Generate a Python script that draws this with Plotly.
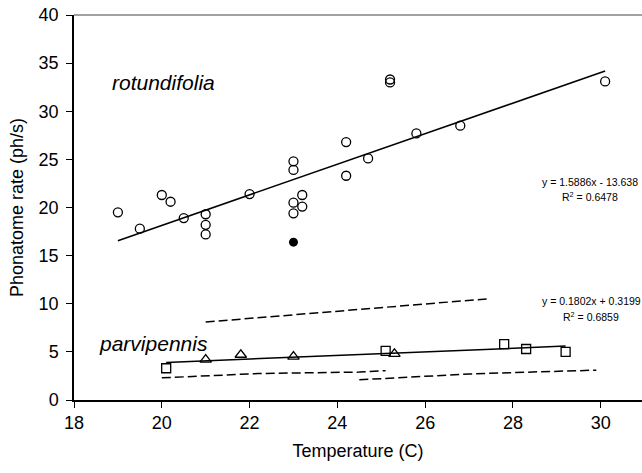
import plotly.graph_objects as go

# rotundifolia (open circles)
rot_x = [19.0, 19.5, 20.0, 20.2, 20.5, 21.0, 21.0, 21.0, 22.0, 23.0, 23.0, 23.0, 23.0,
         23.2, 23.2, 24.2, 24.2, 24.7, 25.2, 25.2, 25.8, 26.8, 30.1]
rot_y = [19.5, 17.8, 21.3, 20.6, 18.9, 19.3, 18.2, 17.2, 21.4, 24.8, 23.9, 20.5, 19.4,
         21.3, 20.1, 26.8, 23.3, 25.1, 33.3, 33.0, 27.7, 28.5, 33.1]
# filled outlier
out_x = [23.0]
out_y = [16.4]
# rotundifolia trend line (end points)
rot_fit_x = [19.0, 30.1]
rot_fit_y = [16.55, 34.18]

# parvipennis
sq_x = [20.1, 25.1, 27.8, 28.3, 29.2]
sq_y = [3.3, 5.1, 5.8, 5.3, 5.0]
tri_x = [21.0, 21.8, 23.0, 25.3]
tri_y = [4.2, 4.7, 4.5, 4.8]
par_fit_x = [20.1, 29.2]
par_fit_y = [3.9, 5.6]

# dashed lines
dash_up_x = [21.0, 22.3, 24.5, 27.4]
dash_up_y = [8.1, 8.6, 9.4, 10.5]
dash_lo1_x = [20.0, 22.2, 24.5, 25.1]
dash_lo1_y = [2.3, 2.75, 2.9, 3.05]
dash_lo2_x = [24.5, 27.0, 28.0, 29.9]
dash_lo2_y = [2.1, 2.7, 2.85, 3.1]

x_ticks = [18, 20, 22, 24, 26, 28, 30]
y_ticks = [0, 5, 10, 15, 20, 25, 30, 35, 40]

FONT = "Liberation Sans, Arial, sans-serif"

fig = go.Figure()

for dx, dy in [(dash_up_x, dash_up_y), (dash_lo1_x, dash_lo1_y), (dash_lo2_x, dash_lo2_y)]:
    fig.add_trace(go.Scatter(x=dx, y=dy, mode="lines",
                             line=dict(color="black", width=1.5, dash="9px,4px"),
                             hoverinfo="skip"))

fig.add_trace(go.Scatter(x=rot_fit_x, y=rot_fit_y, mode="lines",
                         line=dict(color="black", width=1.5)))
fig.add_trace(go.Scatter(x=par_fit_x, y=par_fit_y, mode="lines",
                         line=dict(color="black", width=1.5)))

fig.add_trace(go.Scatter(x=rot_x, y=rot_y, mode="markers",
                         marker=dict(symbol="circle-open", size=9, color="black",
                                     line=dict(width=1.3, color="black"))))
fig.add_trace(go.Scatter(x=out_x, y=out_y, mode="markers",
                         marker=dict(symbol="circle", size=9, color="black")))
fig.add_trace(go.Scatter(x=sq_x, y=sq_y, mode="markers",
                         marker=dict(symbol="square-open", size=9, color="black",
                                     line=dict(width=1.3, color="black"))))
fig.add_trace(go.Scatter(x=tri_x, y=tri_y, mode="markers",
                         marker=dict(symbol="triangle-up-open", size=10, color="black",
                                     line=dict(width=1.3, color="black"))))

annotations = [
    dict(x=18.83, y=33.0, text="<i>rotundifolia</i>", xanchor="left", yanchor="middle",
         showarrow=False, font=dict(size=21, color="black", family=FONT)),
    dict(x=18.52, y=5.9, text="<i>parvipennis</i>", xanchor="left", yanchor="middle",
         showarrow=False, font=dict(size=21, color="black", family=FONT)),
    dict(x=29.75, y=22.67, text="y = 1.5886x - 13.638", xanchor="center", yanchor="middle",
         showarrow=False, font=dict(size=10.5, color="black", family=FONT)),
    dict(x=29.75, y=21.11, text="R<sup>2</sup> = 0.6478", xanchor="center", yanchor="middle",
         showarrow=False, font=dict(size=10.5, color="black", family=FONT)),
    dict(x=29.78, y=10.25, text="y = 0.1802x + 0.3199", xanchor="center", yanchor="middle",
         showarrow=False, font=dict(size=10.5, color="black", family=FONT)),
    dict(x=29.78, y=8.69, text="R<sup>2</sup> = 0.6859", xanchor="center", yanchor="middle",
         showarrow=False, font=dict(size=10.5, color="black", family=FONT)),
]

fig.update_layout(
    width=642, height=473,
    margin=dict(l=74, r=0, t=15, b=73),
    paper_bgcolor="white", plot_bgcolor="white",
    showlegend=False,
    font=dict(family=FONT, color="black", size=18),
    annotations=annotations,
    shapes=[dict(type="line", xref="paper", yref="paper", x0=0, x1=1, y0=1, y1=1,
                 line=dict(color="#444", width=1.2))],
    xaxis=dict(range=[18, 30.94], tickvals=x_ticks, ticks="outside", ticklen=6,
               tickcolor="black", showline=True, linecolor="black", linewidth=1.5,
               showgrid=False, zeroline=False, tickfont=dict(size=18),
               title=dict(text="Temperature (C)", font=dict(size=18), standoff=12)),
    yaxis=dict(range=[0, 40], tickvals=y_ticks, ticks="outside", ticklen=6,
               tickcolor="black", showline=True, linecolor="black", linewidth=1.5,
               showgrid=False, zeroline=False, tickfont=dict(size=18),
               ticklabelstandoff=4,
               title=dict(text="Phonatome rate (ph/s)", font=dict(size=18), standoff=10)),
)

fig.write_html("out.html")
